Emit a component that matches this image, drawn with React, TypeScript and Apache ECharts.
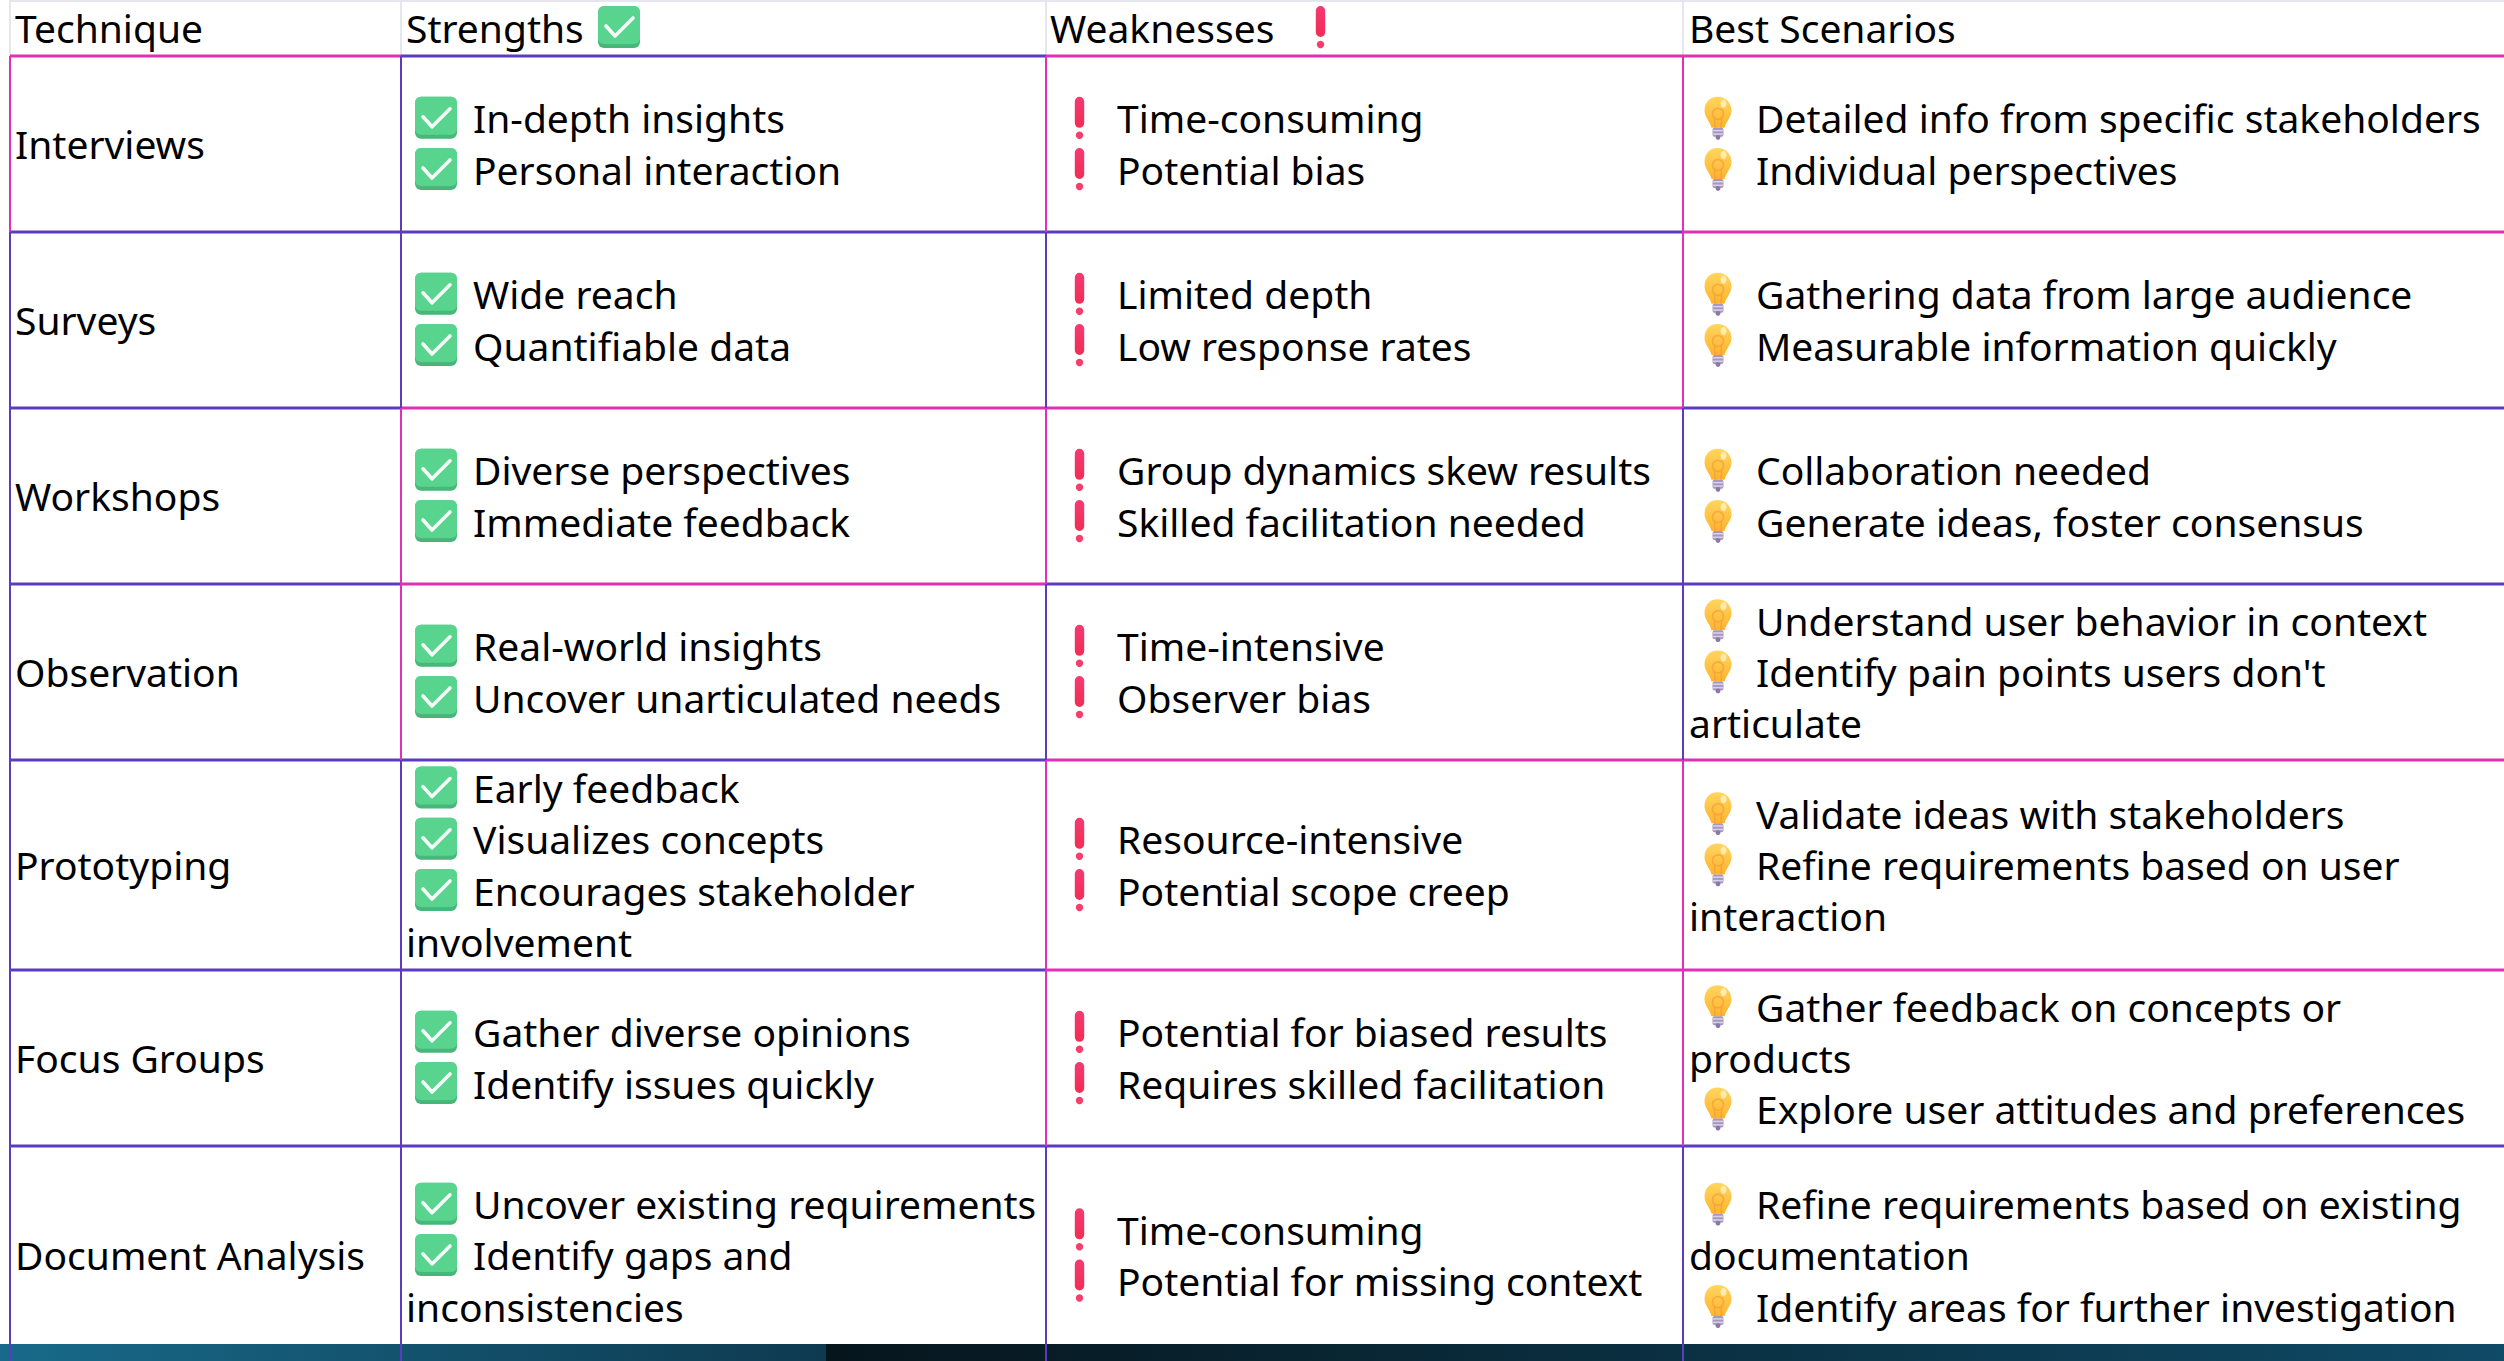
import React, { useEffect, useRef } from "react";
import * as echarts from "echarts";

const headers = ["Technique", "Strengths", "Weaknesses", "Best Scenarios"];
const techniques = ["Interviews", "Surveys", "Workshops", "Observation", "Prototyping", "Focus Groups", "Document Analysis"];
const strengths = [
  ["In-depth insights", "Personal interaction"],
  ["Wide reach", "Quantifiable data"],
  ["Diverse perspectives", "Immediate feedback"],
  ["Real-world insights", "Uncover unarticulated needs"],
  ["Early feedback", "Visualizes concepts", "Encourages stakeholder\ninvolvement"],
  ["Gather diverse opinions", "Identify issues quickly"],
  ["Uncover existing requirements", "Identify gaps and\ninconsistencies"],
];
const weaknesses = [
  ["Time-consuming", "Potential bias"],
  ["Limited depth", "Low response rates"],
  ["Group dynamics skew results", "Skilled facilitation needed"],
  ["Time-intensive", "Observer bias"],
  ["Resource-intensive", "Potential scope creep"],
  ["Potential for biased results", "Requires skilled facilitation"],
  ["Time-consuming", "Potential for missing context"],
];
const scenarios = [
  ["Detailed info from specific stakeholders", "Individual perspectives"],
  ["Gathering data from large audience", "Measurable information quickly"],
  ["Collaboration needed", "Generate ideas, foster consensus"],
  ["Understand user behavior in context", "Identify pain points users don't\narticulate"],
  ["Validate ideas with stakeholders", "Refine requirements based on user\ninteraction"],
  ["Gather feedback on concepts or\nproducts", "Explore user attitudes and preferences"],
  ["Refine requirements based on existing\ndocumentation", "Identify areas for further investigation"],
];

// grid geometry
const colX = [10, 401, 1046, 1683, 2504];
const rowY = [56, 232, 408, 584, 760, 970, 1146, 1365];
const P = "#5b3cc0";
const M = "#e12fb6";
const hColors = [
  [M, P, M, M],
  [P, P, P, M],
  [P, M, M, P],
  [P, M, P, P],
  [P, P, M, M],
  [P, P, M, M],
  [P, P, P, P],
];
const vColors = [
  [M, P, M, M],
  [P, P, P, M],
  [P, M, M, P],
  [P, M, P, P],
  [P, P, M, M],
  [P, P, M, M],
  [P, P, P, P],
];

echarts.graphic.registerShape(
  "bulbShape",
  echarts.graphic.extendPath("M13 0C21 0 27 6 27 14C27 20 22 24 20 31L7 31C5 24 0 20 0 14C0 6 5 0 13 0Z", {}) as any
);

const FONT = "Noto Sans";
const FS = 39;
const LH = 51.2;
const TXT_DY = -15;

function text(x: number, baseline: number, s: string) {
  return {
    type: "text", x, y: baseline + TXT_DY, silent: true,
    style: { text: s, fill: "#000", font: `${FS}px "${FONT}"`, align: "left", verticalAlign: "middle" },
  };
}
const grad = (a: string, b: string) => ({
  type: "linear", x: 0, y: 0, x2: 0, y2: 1,
  colorStops: [{ offset: 0, color: a }, { offset: 1, color: b }],
});

function check(x: number, baseline: number) {
  return {
    type: "group", x, y: baseline - 36, silent: true,
    children: [
      { type: "rect", shape: { x: 0, y: 0, width: 42, height: 42, r: 6 }, style: { fill: grad("#5fda96", "#46b578") } },
      { type: "rect", shape: { x: 0, y: 0, width: 42, height: 38, r: 6 }, style: { fill: "#58d48f" } },
      { type: "polyline", shape: { points: [[8, 20], [17, 30], [35, 12]] }, style: { fill: "none", stroke: "#f5fdf8", lineWidth: 3.6, lineCap: "round", lineJoin: "round" } },
    ],
  };
}
function bang(cx: number, baseline: number) {
  return {
    type: "group", x: cx - 4.7, y: baseline - 36, silent: true,
    children: [
      { type: "rect", shape: { x: 0, y: 0, width: 9.4, height: 31, r: 4.7 }, style: { fill: grad("#f43a72", "#f22c55") } },
      { type: "circle", shape: { cx: 4.7, cy: 38.5, r: 3.7 }, style: { fill: "#f53e6c" } },
    ],
  };
}
function bulb(cx: number, baseline: number) {
  return {
    type: "group", x: cx - 13.5, y: baseline - 36, silent: true,
    children: [
      { type: "bulbShape", style: { fill: grad("#ffd660", "#ffb32c") } },
      { type: "circle", shape: { cx: 13.5, cy: 17, r: 5.5 }, style: { fill: "none", stroke: "#f4a23c", lineWidth: 1.6, opacity: 0.8 } },
      { type: "polyline", shape: { points: [[10, 21], [10.5, 31]] }, style: { fill: "none", stroke: "#f4a23c", lineWidth: 1.4 } },
      { type: "polyline", shape: { points: [[17, 21], [16.5, 31]] }, style: { fill: "none", stroke: "#f4a23c", lineWidth: 1.4 } },
      { type: "ellipse", shape: { cx: 19, cy: 7, rx: 3, ry: 4 }, style: { fill: "#fff3c4", opacity: 0.8 } },
      { type: "rect", shape: { x: 8, y: 31, width: 11, height: 9, r: 2 }, style: { fill: "#a796bf" } },
      { type: "rect", shape: { x: 7.5, y: 33, width: 12, height: 1.6 }, style: { fill: "#d8d0e4" } },
      { type: "rect", shape: { x: 7.5, y: 36.5, width: 12, height: 1.6 }, style: { fill: "#d8d0e4" } },
      { type: "circle", shape: { cx: 13.5, cy: 40.5, r: 2.4 }, style: { fill: "#8a78a8" } },
    ],
  };
}

function column(cells: string[][], icon: (x: number, b: number) => any, iconX: number, textX: number, wrapX: number) {
  const out: any[] = [];
  cells.forEach((items, r) => {
    const lines = items.reduce((n, it) => n + it.split("\n").length, 0);
    const center = (rowY[r] + rowY[r + 1]) / 2;
    let base = center - (lines * LH) / 2 + 40;
    items.forEach((it) => {
      it.split("\n").forEach((s, i) => {
        if (i === 0) {
          out.push(icon(iconX, base));
          out.push(text(textX, base, s));
        } else {
          out.push(text(wrapX, base, s));
        }
        base += LH;
      });
    });
  });
  return out;
}

function buildGraphics() {
  const g: any[] = [];
  const W = 2504, H = 1361;
  g.push({ type: "rect", shape: { x: 0, y: 0, width: W, height: H }, style: { fill: "#fff" }, silent: true });

  // bottom band
  const band = (x: number, width: number, a: string, b: string) => ({
    type: "rect", silent: true, shape: { x, y: 1344, width, height: 17 },
    style: { fill: { type: "linear", x: 0, y: 0, x2: 1, y2: 0, colorStops: [{ offset: 0, color: a }, { offset: 1, color: b }] } },
  });
  g.push(band(0, 826, "#186a8a", "#0e3a50"));
  g.push(band(826, 1678, "#06151c", "#0f4a66"));

  // header hairlines
  const grey = "#e6e6ee";
  const line = (x1: number, y1: number, x2: number, y2: number, stroke: string, lineWidth: number) => ({
    type: "line", silent: true, shape: { x1, y1, x2, y2 }, style: { stroke, lineWidth },
  });
  g.push(line(10, 1, 2504, 1, grey, 2));
  colX.slice(0, 4).forEach((x) => g.push(line(x, 0, x, rowY[0], grey, 2)));

  // rows and columns
  hColors.forEach((cols, r) => {
    cols.forEach((c, k) => g.push(line(colX[k], rowY[r], colX[k + 1], rowY[r], c, 3)));
  });
  vColors.forEach((cols, r) => {
    cols.forEach((c, k) => g.push(line(colX[k], rowY[r], colX[k], Math.min(rowY[r + 1], H), c, 2)));
  });

  // header
  const hb = 42;
  [15, 406, 1050, 1689].forEach((x, i) => g.push(text(x, hb, headers[i])));
  g.push(check(598, hb));
  g.push(bang(1320.5, hb));

  // first column
  techniques.forEach((t, r) => {
    const c = (rowY[r] + rowY[r + 1]) / 2;
    g.push(text(15, c + 14, t));
  });

  g.push(...column(strengths, check, 415, 473, 406));
  g.push(...column(weaknesses, bang, 1079.5, 1117, 1050));
  g.push(...column(scenarios, bulb, 1718, 1756, 1689));
  return g;
}

export default function App() {
  const ref = useRef<HTMLDivElement>(null);
  useEffect(() => {
    const chart = echarts.init(ref.current!, undefined, { renderer: "svg" });
    chart.setOption({ animation: false, graphic: { elements: buildGraphics() } });
    return () => chart.dispose();
  }, []);
  return <div ref={ref} style={{ position: "fixed", left: 0, top: 0, width: 2504, height: 1361, background: "#fff" }} />;
}
